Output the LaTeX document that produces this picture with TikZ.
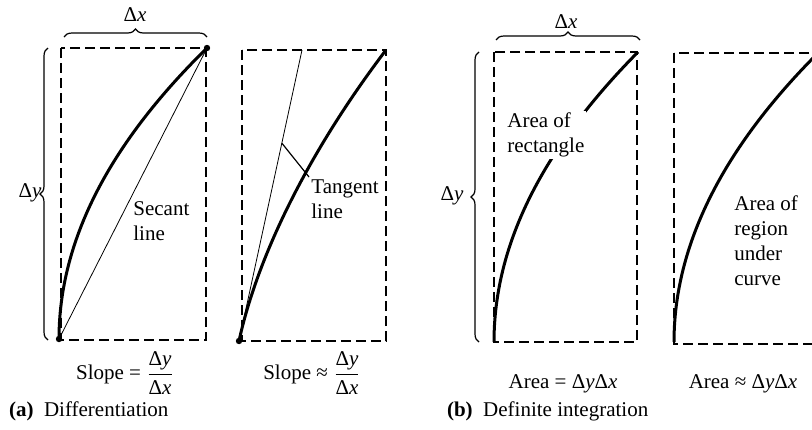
\documentclass[tikz,border=0pt]{standalone}
\usepackage{amsmath}
\usepackage{fontspec}
\setmainfont{Liberation Serif}
\usepackage{tikz}
\usetikzlibrary{positioning,calc,decorations.pathreplacing}

\newcommand{\dy}{Δ\textit{y}}
\newcommand{\dx}{Δ\textit{x}}

\begin{document}
\begin{tikzpicture}[x=0.5pt, y=-0.5pt, font=\fontsize{10.5}{12.5}\selectfont,
    dashbox/.style={draw, dash pattern=on 5pt off 2.5pt, line width=1pt},
    fcurve/.style={draw, line width=1.5pt},
    thinline/.style={draw, line width=0.4pt},
    dot/.style={circle, fill, inner sep=0pt, minimum size=3.2pt},
    brace/.style={draw, decorate, decoration={brace, amplitude=4pt}, line width=0.6pt},
    note/.style={align=left, inner sep=1pt}]

    \clip (0,0) rectangle (812,429);

    % (a) secant
    \node [dot] (a0) at (59,339) {};
    \node [dot] (a1) at (207,48) {};
    \draw [dashbox] (61,48) rectangle (206,340);
    \draw [fcurve] (a0.center) .. controls (59,242) and (108,145) .. (a1.center);
    \draw [thinline] (a0) -- (a1);
    \draw [brace] (64,37) -- (207,37);
    \draw [brace] (48,340) -- (48,48);
    \node (adx) at (135,15) {\dx};
    \node (ady) at (30,193) {\dy};
    \node [note, anchor=west] (secant) at (131,221) {Secant\\line};
    \node (slope1) at (125,373) {Slope = $\dfrac{\mbox{\dy}}{\mbox{\dx}}$};

    % (a) tangent
    \node [dot] (b0) at (239,341) {};
    \coordinate (b1) at (386,50);
    \coordinate (bt) at (302,50);
    \draw [dashbox] (242,50) rectangle (386,341);
    \draw [fcurve] (b0.center) .. controls (258,254) and (310,150) .. (b1);
    \draw [thinline] (b0) -- (bt);
    \coordinate (bmark) at ($(b0)!0.68!(bt)$);
    \node [note, anchor=north west] (tangent) at (309,177) {Tangent\\line};
    \draw [line width=0.6pt] (bmark) -- (tangent.north west);
    \node (slope2) at (312,373) {Slope ≈ $\dfrac{\mbox{\dy}}{\mbox{\dx}}$};

    \node [anchor=west] (capa) at (2,411) {\textbf{(a)}\ \ Differentiation};

    % (b) rectangle
    \coordinate (c0) at (494,342);
    \coordinate (c1) at (638,52);
    \draw [dashbox] (494,52) rectangle (637,342);
    \draw [fcurve] (c0) .. controls (494,245) and (542,149) .. (c1);
    \draw [brace] (496,40) -- (640,40);
    \draw [brace] (479,342) -- (479,52);
    \node (cdx) at (566,22) {\dx};
    \node (cdy) at (452,196) {\dy};
    \node [note, anchor=west, fill=white] (rect) at (505,135) {Area of\\rectangle};
    \node (area1) at (563,384) {Area = \dy\dx};

    % (b) region under curve
    \coordinate (d0) at (674,342);
    \coordinate (d1) at (818,53);
    \draw [dashbox] (674,53) rectangle (818,344);
    \draw [fcurve] (d0) .. controls (674,246) and (722,149) .. (d1);
    \node [note, anchor=west] (region) at (732,241) {Area of\\region\\under\\curve};
    \node (area2) at (743,384) {Area ≈ \dy\dx};

    \node [anchor=west] (capb) at (440,411) {\textbf{(b)}\ \ Definite integration};
\end{tikzpicture}
\end{document}
